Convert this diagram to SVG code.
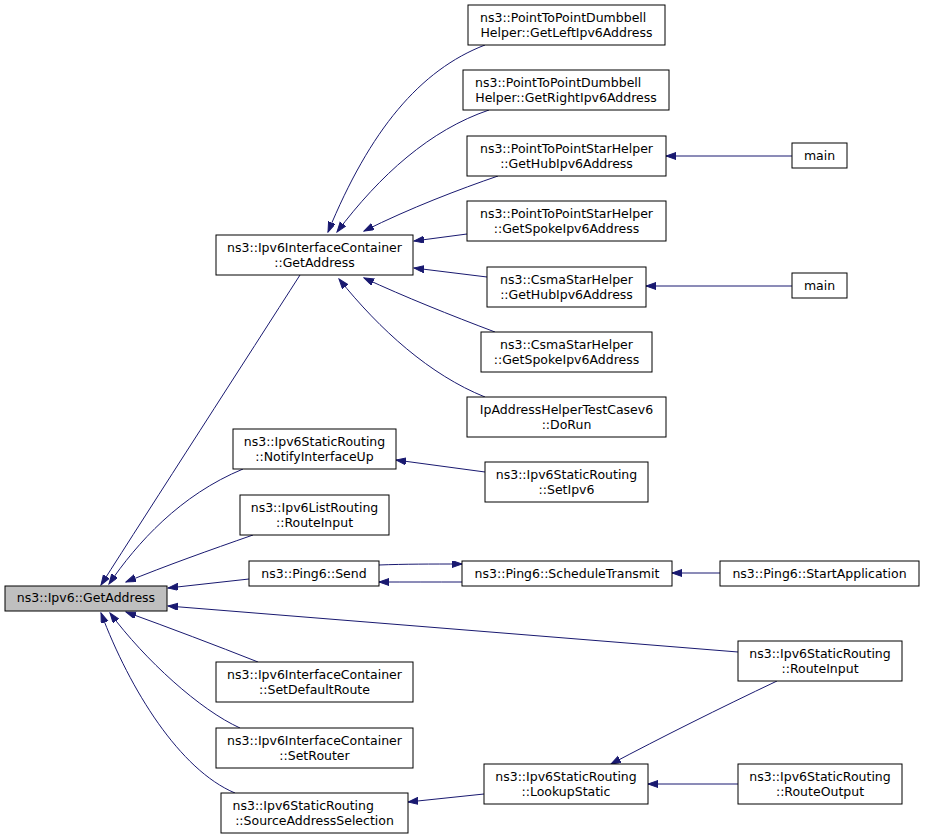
<svg xmlns="http://www.w3.org/2000/svg" width="925" height="839" viewBox="0 0 925 839">
<defs>
<marker id="ah" markerUnits="userSpaceOnUse" markerWidth="11" markerHeight="8" refX="10" refY="3.5" orient="auto">
<path d="M0,0 L10,3.5 L0,7 z" fill="#191970" stroke="#191970" stroke-width="1"/>
</marker>
</defs>
<style>
.n rect{fill:#fff;stroke:#000;stroke-width:1}
.n.root rect{fill:#bfbfbf}
.n text{font-family:"DejaVu Sans",sans-serif;font-size:12.5px;fill:#000;text-anchor:middle}
.n text.l{text-anchor:start}
#edges path{fill:none;stroke:#191970;stroke-width:1;marker-end:url(#ah)}
</style>
<rect width="925" height="839" fill="#fff"/>
<g id="edges">
<path d="M300,275 C250,353 150,508 101,585"/>
<path d="M243,469 C180,495 137,543 109,584"/>
<path d="M253,535 C210,550 165,566 126,582"/>
<path d="M249,579 L168,588"/>
<path d="M738,652 L168,606"/>
<path d="M258,662 C215,645 170,628 126,612"/>
<path d="M240,728 C200,710 145,660 110,613"/>
<path d="M235,793 C180,770 130,690 101,613"/>
<path d="M485,45 C420,70 370,130 328,232"/>
<path d="M489,110 C430,130 380,175 337,232"/>
<path d="M498,176 C460,189 410,208 364,231"/>
<path d="M467,234 L414,241"/>
<path d="M487,277 L414,268"/>
<path d="M495,332 C450,315 405,297 364,278"/>
<path d="M485,397 C430,375 380,330 339,279"/>
<path d="M792,156 L666,156"/>
<path d="M792,286 L646,286"/>
<path d="M485,472 L396,460"/>
<path d="M379,565 C405,564 430,564 462,564"/>
<path d="M462,582 C435,582 405,582 379,582"/>
<path d="M720,573 L672,573"/>
<path d="M777,681 C720,708 660,738 611,764"/>
<path d="M738,784 L648,784"/>
<path d="M484,794 L408,802"/>
</g>
<g id="n0" class="n root"><rect x="5" y="586" width="162" height="25"/><text x="86" y="602">ns3::Ipv6::GetAddress</text></g>
<g id="n1" class="n"><rect x="216" y="235" width="197" height="40"/><text x="314.5" y="251.5">ns3::Ipv6InterfaceContainer</text><text x="314.5" y="266.5">::GetAddress</text></g>
<g id="n2" class="n"><rect x="468" y="5" width="197" height="40"/><text class="l" x="480" y="21.5">ns3::PointToPointDumbbell</text><text x="566.5" y="36.5">Helper::GetLeftIpv6Address</text></g>
<g id="n3" class="n"><rect x="463" y="70" width="206" height="40"/><text class="l" x="475" y="86.5">ns3::PointToPointDumbbell</text><text x="566" y="101.5">Helper::GetRightIpv6Address</text></g>
<g id="n4" class="n"><rect x="467" y="136" width="199" height="40"/><text x="566.5" y="152.5">ns3::PointToPointStarHelper</text><text x="566.5" y="167.5">::GetHubIpv6Address</text></g>
<g id="n5" class="n"><rect x="467" y="201" width="199" height="40"/><text x="566.5" y="217.5">ns3::PointToPointStarHelper</text><text x="566.5" y="232.5">::GetSpokeIpv6Address</text></g>
<g id="n6" class="n"><rect x="487" y="267" width="159" height="40"/><text x="566.5" y="283.5">ns3::CsmaStarHelper</text><text x="566.5" y="298.5">::GetHubIpv6Address</text></g>
<g id="n7" class="n"><rect x="481" y="332" width="171" height="40"/><text x="566.5" y="348.5">ns3::CsmaStarHelper</text><text x="566.5" y="363.5">::GetSpokeIpv6Address</text></g>
<g id="n8" class="n"><rect x="467" y="397" width="199" height="40"/><text x="566.5" y="413.5">IpAddressHelperTestCasev6</text><text x="566.5" y="428.5">::DoRun</text></g>
<g id="n9" class="n"><rect x="792" y="143" width="55" height="25"/><text x="819.5" y="159.5">main</text></g>
<g id="n10" class="n"><rect x="792" y="273" width="55" height="25"/><text x="819.5" y="289.5">main</text></g>
<g id="n11" class="n"><rect x="233" y="429" width="163" height="40"/><text x="314.5" y="445.5">ns3::Ipv6StaticRouting</text><text x="314.5" y="460.5">::NotifyInterfaceUp</text></g>
<g id="n12" class="n"><rect x="485" y="462" width="163" height="40"/><text x="566.5" y="478.5">ns3::Ipv6StaticRouting</text><text x="566.5" y="493.5">::SetIpv6</text></g>
<g id="n13" class="n"><rect x="240" y="495" width="149" height="40"/><text x="314.5" y="511.5">ns3::Ipv6ListRouting</text><text x="314.5" y="526.5">::RouteInput</text></g>
<g id="n14" class="n"><rect x="249" y="561" width="130" height="25"/><text x="314" y="577.5">ns3::Ping6::Send</text></g>
<g id="n15" class="n"><rect x="462" y="561" width="210" height="25"/><text x="567" y="577.5">ns3::Ping6::ScheduleTransmit</text></g>
<g id="n16" class="n"><rect x="720" y="561" width="199" height="25"/><text x="819.5" y="577.5">ns3::Ping6::StartApplication</text></g>
<g id="n17" class="n"><rect x="738" y="641" width="164" height="40"/><text x="820" y="657.5">ns3::Ipv6StaticRouting</text><text x="820" y="672.5">::RouteInput</text></g>
<g id="n18" class="n"><rect x="216" y="662" width="197" height="40"/><text x="314.5" y="678.5">ns3::Ipv6InterfaceContainer</text><text x="314.5" y="693.5">::SetDefaultRoute</text></g>
<g id="n19" class="n"><rect x="216" y="728" width="197" height="40"/><text x="314.5" y="744.5">ns3::Ipv6InterfaceContainer</text><text x="314.5" y="759.5">::SetRouter</text></g>
<g id="n20" class="n"><rect x="221" y="793" width="187" height="40"/><text class="l" x="232.5" y="809.5">ns3::Ipv6StaticRouting</text><text x="314.5" y="824.5">::SourceAddressSelection</text></g>
<g id="n21" class="n"><rect x="484" y="764" width="164" height="40"/><text x="566" y="780.5">ns3::Ipv6StaticRouting</text><text x="566" y="795.5">::LookupStatic</text></g>
<g id="n22" class="n"><rect x="738" y="764" width="164" height="40"/><text x="820" y="780.5">ns3::Ipv6StaticRouting</text><text x="820" y="795.5">::RouteOutput</text></g>
</svg>
